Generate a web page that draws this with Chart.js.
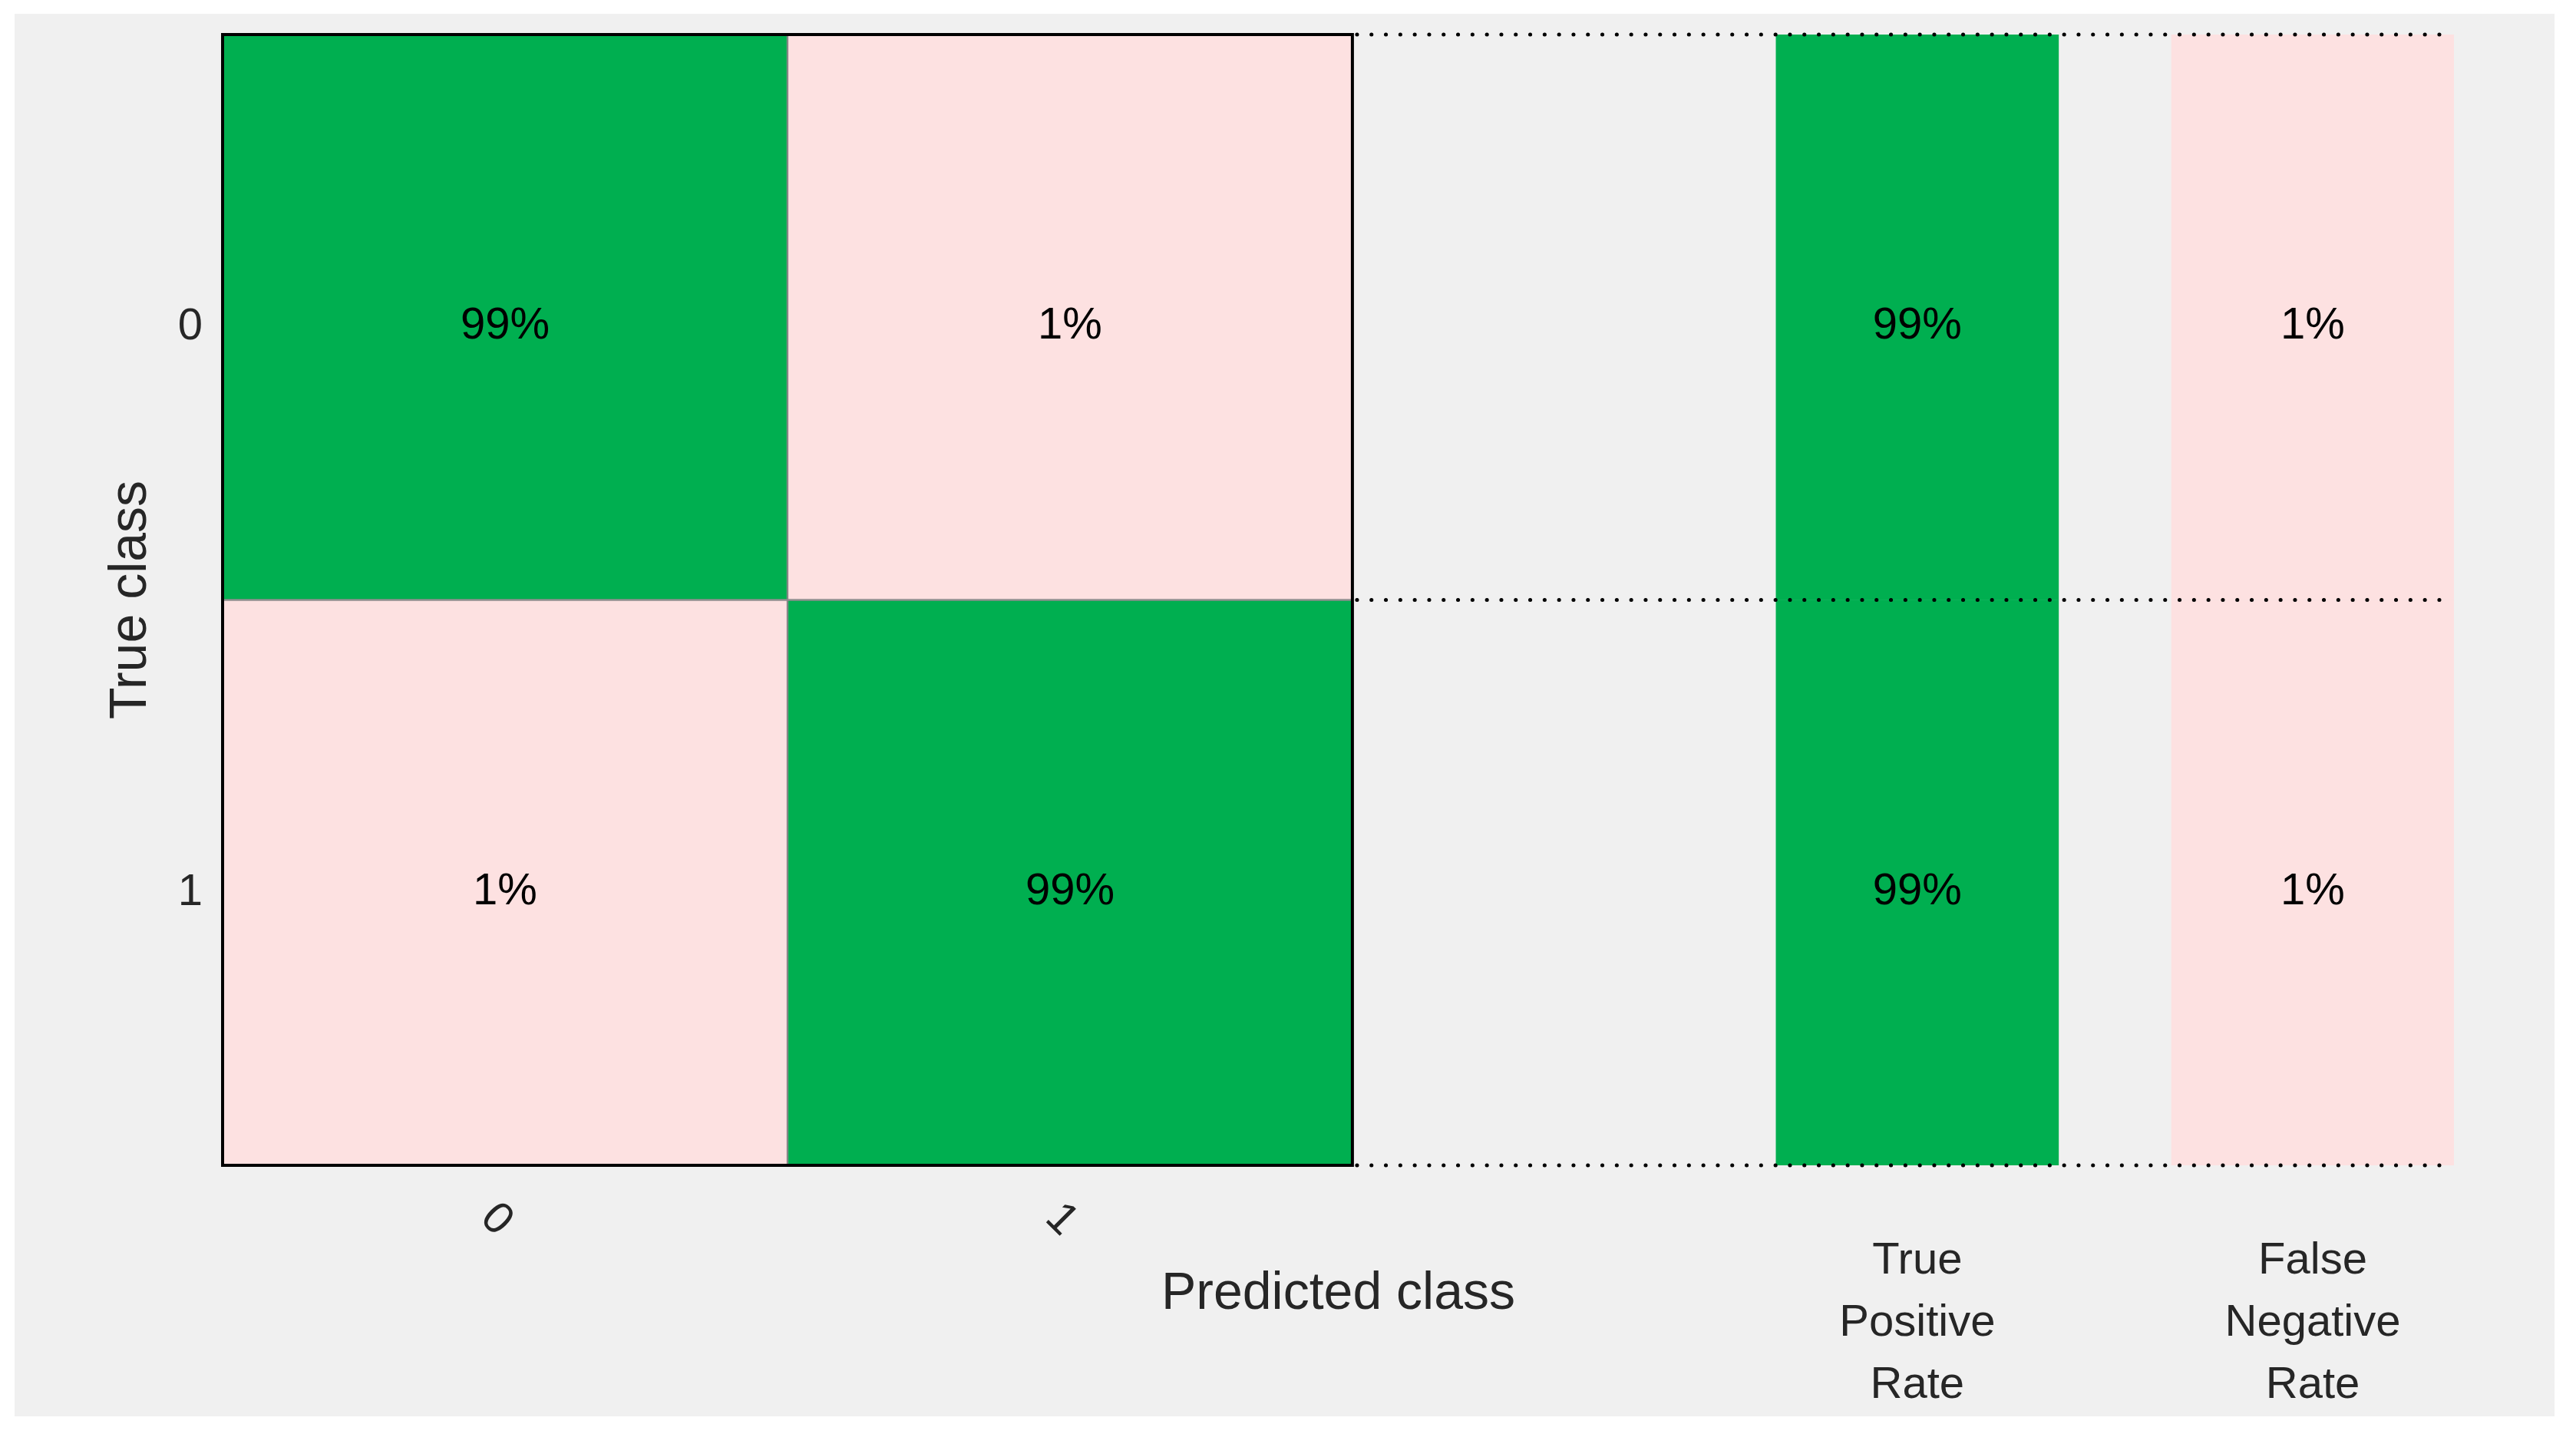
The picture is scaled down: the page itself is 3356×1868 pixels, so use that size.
<!DOCTYPE html>
<html lang="en">
<head>
<meta charset="utf-8">
<title>Confusion matrix</title>
<script src="https://cdn.jsdelivr.net/npm/chart.js@4.4.1/dist/chart.umd.min.js"></script>
<style>
  html, body { margin: 0; padding: 0; background: #ffffff; }
  .figure {
    position: absolute;
    left: 19px;
    top: 18px;
    width: 3309px;
    height: 1827px;
    background: #f0f0f0;
  }
</style>
</head>
<body>
<div class="figure"><canvas id="confusionChart"></canvas></div>
<script>
/* ============================================
   Confusion chart (rows = true class, cols = predicted)
   ============================================ */

/* ---------- Data ---------- */
const TRUE_CLASSES = ['0', '1'];
const PREDICTED_CLASSES = ['0', '1'];
const CELL_PCT = [
  [99, 1],
  [1, 99]
];
const TRUE_POSITIVE_RATE = [99, 99];
const FALSE_NEGATIVE_RATE = [1, 1];
const SUMMARY_LABELS = [['True', 'Positive', 'Rate'], ['False', 'Negative', 'Rate']];

/* ---------- Style ---------- */
const COLORS = {
  good: '#00AF50',
  bad: '#FDE1E1',
  cellEdge: '#858585',
  text: '#000000',
  axis: '#262626'
};
const FONT = "'Liberation Sans', Arial, Helvetica, sans-serif";

// x layout: matrix columns take [0,1] and [1,2], summary columns sit to the right
const SUMMARY_SPANS = [[2.75, 3.25], [3.45, 3.95]];
const X_MAX = 3.95;

/* ---------- Datasets ---------- */
function buildDatasets() {
  const sets = PREDICTED_CLASSES.map((p, j) => ({
    label: 'Predicted ' + p,
    data: TRUE_CLASSES.map((t, i) => ({ x: [j, j + 1], y: t, pct: CELL_PCT[i][j] })),
    backgroundColor: TRUE_CLASSES.map((t, i) => (i === j ? COLORS.good : COLORS.bad)),
    borderColor: COLORS.cellEdge,
    borderWidth: 1.5
  }));

  [TRUE_POSITIVE_RATE, FALSE_NEGATIVE_RATE].forEach((rates, k) => {
    sets.push({
      label: SUMMARY_LABELS[k].join(' '),
      data: TRUE_CLASSES.map((t, i) => ({ x: SUMMARY_SPANS[k], y: t, pct: rates[i] })),
      backgroundColor: k === 0 ? COLORS.good : COLORS.bad,
      borderWidth: 0
    });
  });
  return sets;
}

/* ---------- Frame, dotted row lines, cell text ---------- */
const matrixDecor = {
  id: 'matrixDecor',
  afterDatasetsDraw(chart) {
    const { ctx, scales: { x, y } } = chart;
    const nCols = PREDICTED_CLASSES.length;
    const bounds = [];
    for (let i = 0; i <= TRUE_CLASSES.length; i++) bounds.push(y.getPixelForValue(i - 0.5));
    const left = x.getPixelForValue(0);
    const right = x.getPixelForValue(nCols);
    const end = x.getPixelForValue(X_MAX);

    ctx.save();
    // dotted separators across the summary area
    ctx.strokeStyle = '#000000';
    ctx.lineWidth = 5;
    ctx.lineCap = 'round';
    ctx.setLineDash([0.1, 18.7]);
    bounds.forEach(b => {
      ctx.beginPath();
      ctx.moveTo(right + 6, b);
      ctx.lineTo(end - 8, b);
      ctx.stroke();
    });

    // solid frame round the matrix
    ctx.setLineDash([]);
    ctx.lineCap = 'butt';
    ctx.lineWidth = 4;
    ctx.strokeRect(left, bounds[0], right - left, bounds[bounds.length - 1] - bounds[0]);

    // percentages
    ctx.fillStyle = COLORS.text;
    ctx.font = '58px ' + FONT;
    ctx.textAlign = 'center';
    ctx.textBaseline = 'middle';
    chart.data.datasets.forEach((ds, di) => {
      chart.getDatasetMeta(di).data.forEach((el, i) => {
        const c = el.getCenterPoint();
        ctx.fillText(ds.data[i].pct + '%', c.x, c.y + 12);
      });
    });
    ctx.restore();
  }
};

/* ---------- Chart ---------- */
const axisFont = { family: FONT, size: 58 };
const titleFont = { family: FONT, size: 68 };

new Chart(document.getElementById('confusionChart'), {
  type: 'bar',
  data: { datasets: buildDatasets() },
  plugins: [matrixDecor],
  options: {
    indexAxis: 'y',
    responsive: true,
    maintainAspectRatio: false,
    devicePixelRatio: 1,
    animation: false,
    layout: { padding: { left: 0, top: 27, right: 131, bottom: 107 } },
    plugins: {
      legend: { display: false },
      tooltip: { enabled: false }
    },
    datasets: {
      bar: { grouped: false, barPercentage: 1, categoryPercentage: 1, borderSkipped: false }
    },
    scales: {
      y: {
        type: 'category',
        labels: TRUE_CLASSES,
        offset: true,
        grid: { display: false, drawTicks: false },
        border: { display: false },
        ticks: { padding: 26, labelOffset: 13, color: COLORS.axis, font: axisFont },
        title: {
          display: true,
          text: 'True class',
          color: COLORS.axis,
          font: titleFont,
          padding: { top: 111, bottom: 0 }
        },
        afterFit: s => {
          s.width = 271;
          // labels sit well inside the rows, so no extra room above/below
          s.paddingTop = 0;
          s.paddingBottom = 0;
        }
      },
      x: {
        type: 'linear',
        position: 'bottom',
        min: 0,
        max: X_MAX,
        grid: { display: false, drawTicks: false },
        border: { display: false },
        afterBuildTicks: s => { s.ticks = PREDICTED_CLASSES.map((c, i) => ({ value: i + 0.5 })); },
        ticks: {
          autoSkip: false,
          // negative angle tilts the glyphs clockwise, as in the source figure
          minRotation: -45,
          maxRotation: -45,
          padding: 58,
          color: COLORS.axis,
          font: axisFont,
          callback: (v, i) => PREDICTED_CLASSES[i]
        },
        title: {
          display: true,
          text: 'Predicted class',
          color: COLORS.axis,
          font: titleFont,
          padding: { top: 0, bottom: 11 }
        },
        afterFit: s => { s.height = 220; }
      },
      x2: {
        type: 'linear',
        axis: 'x',
        position: { y: TRUE_CLASSES.length - 0.5 },
        min: 0,
        max: X_MAX,
        grid: { display: false, drawTicks: false },
        border: { display: false },
        afterBuildTicks: s => { s.ticks = SUMMARY_SPANS.map(sp => ({ value: (sp[0] + sp[1]) / 2 })); },
        ticks: {
          autoSkip: false,
          maxRotation: 0,
          padding: 84,
          color: COLORS.axis,
          font: { family: FONT, size: 58, lineHeight: 1.4 },
          callback: (v, i) => SUMMARY_LABELS[i]
        }
      }
    }
  }
});
</script>
</body>
</html>
